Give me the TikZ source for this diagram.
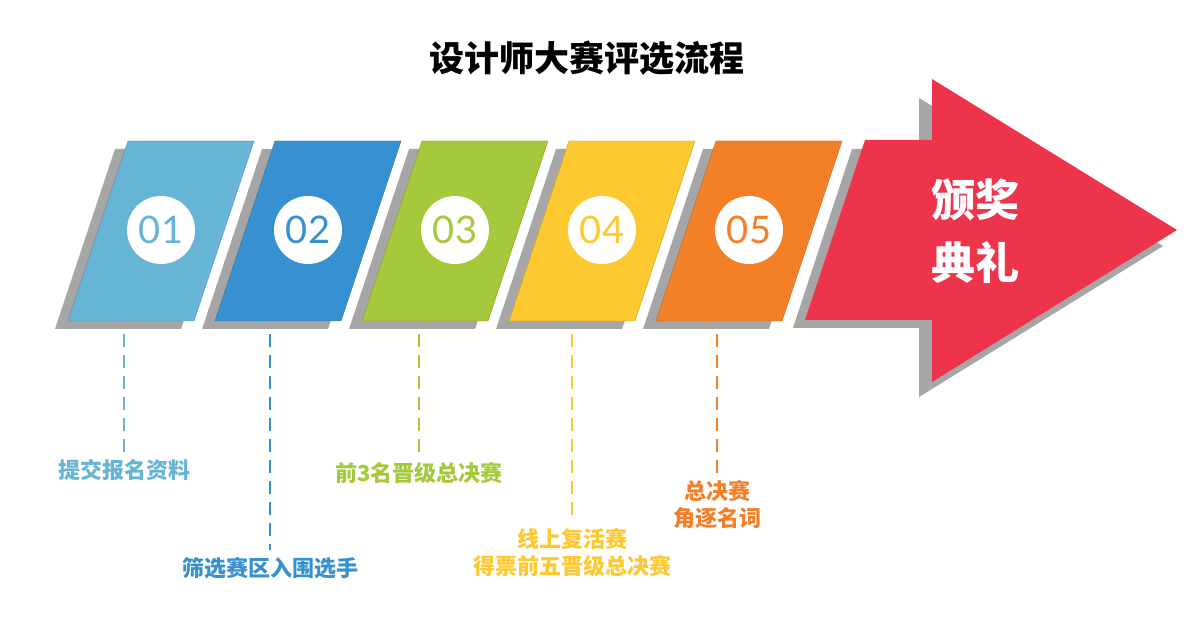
\documentclass[tikz,border=0pt]{standalone}
\usepackage{fontspec}
\setmainfont{Noto Sans CJK SC}
\newfontfamily\numfont{Lato}
\usepackage{xcolor}
\usepackage{tikz}
\usetikzlibrary{positioning}
\definecolor{stepa}{RGB}{102,181,212}
\definecolor{stepb}{RGB}{55,144,207}
\definecolor{stepc}{RGB}{164,201,58}
\definecolor{stepd}{RGB}{254,200,49}
\definecolor{stepe}{RGB}{243,127,39}
\definecolor{awardred}{RGB}{238,52,75}
\definecolor{shadowgray}{RGB}{166,166,166}
\tikzset{
  numcircle/.style={draw=none, fill=white, circle, minimum size=68pt, inner sep=0pt, font=\numfont\fontsize{38}{38}\selectfont},
  steplabel/.style={inner sep=7pt, align=center, font=\fontsize{22}{27}\selectfont\bfseries},
  dashline/.style={line width=2.6pt, dash pattern=on 13pt off 8pt}
}

\begin{document}
\begin{tikzpicture}[x=1pt, y=-1pt]
            \useasboundingbox[fill=white] (0,0) rectangle (1200,636);
            \draw (587,58) node[font=\fontsize{35}{35}\selectfont\bfseries]   (title) {设计师大赛评选流程};
            \foreach \i/\c/\n in {0/stepa/01, 1/stepb/02, 2/stepc/03, 3/stepd/04, 4/stepe/05} {
              \fill[shadowgray, shift={(147*\i-13,8)}] (128,141) -- (254,141) -- (194,321) -- (68,321) -- cycle;
              \filldraw[fill=\c, draw=\c!80!black, line width=0.4pt, shift={(147*\i,0)}] (128,141) -- (254,141) -- (194,321) -- (68,321) -- cycle;
              \draw (161+147*\i,230) node[numcircle, text=\c]   (n\n) {\n};
            }
            \fill[shadowgray] (852,149) -- (919,149) -- (919,98) -- (1163,246) -- (919,397) -- (919,328) -- (793,328) -- cycle;
            \fill[awardred] (865,140) -- (932,140) -- (932,79) -- (1177,230) -- (932,382) -- (932,320) -- (805,320) -- cycle;
            \draw (975,231) node[text=white, align=center, font=\fontsize{44}{63}\selectfont\bfseries]   (award) {颁奖\\典礼};
            \coordinate (d1) at (124,334);
            \coordinate (d2) at (270,334);
            \coordinate (d3) at (419,334);
            \coordinate (d4) at (572,334);
            \coordinate (d5) at (717,334);
            \draw (124,470) node[steplabel, text=stepa]   (t1) {提交报名资料};
            \draw (270,568) node[steplabel, text=stepb]   (t2) {筛选赛区入围选手};
            \draw (419,473) node[steplabel, text=stepc]   (t3) {前3名晋级总决赛};
            \draw (572,552) node[steplabel, text=stepd]   (t4) {线上复活赛\\得票前五晋级总决赛};
            \draw (717,505) node[steplabel, text=stepe]   (t5) {总决赛\\角逐名词};
            \draw[dashline, stepa] (d1) -- (t1);
            \draw[dashline, stepb] (d2) -- (t2);
            \draw[dashline, stepc] (d3) -- (t3);
            \draw[dashline, stepd] (d4) -- (t4);
            \draw[dashline, stepe] (d5) -- (t5);
\end{tikzpicture}
\end{document}
